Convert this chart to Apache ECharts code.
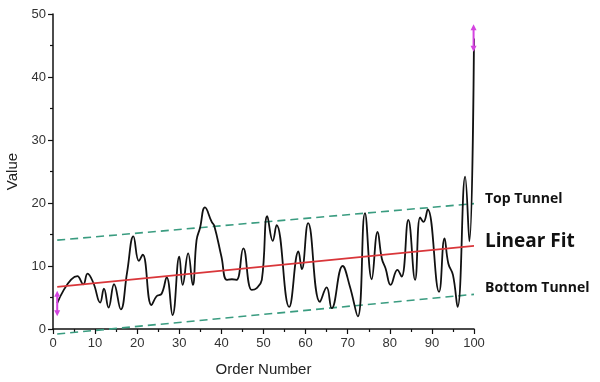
<!DOCTYPE html>
<html>
<head>
<meta charset="utf-8">
<script src="https://cdn.jsdelivr.net/npm/echarts@6/dist/echarts.min.js"></script>
<style>html,body{margin:0;padding:0;background:#fff}#c{width:600px;height:382px}</style>
</head>
<body>
<div id="c"></div>
<script>
// Data
const orderX = [1, 5.8, 7.2, 8.2, 9.6, 11.2, 12.1, 13.2, 14.5, 16.1, 17.6, 19.1, 20.4, 21.3, 23.4, 24.6, 25.8, 27.0, 28.4, 30.0, 30.8, 32.1, 33.2, 34.1, 34.9, 36.1, 37.7, 38.3, 40.0, 41.3, 42.5, 43.6, 45.2, 47.2, 48.4, 49.6, 50.9, 52.2, 53.1, 56.1, 58.3, 59.1, 60.6, 63.4, 65.0, 66.2, 68.8, 70.5, 72.4, 74.1, 75.7, 77.1, 78.1, 79.0, 80.2, 81.8, 82.8, 84.4, 86.0, 87.2, 88.0, 89.0, 91.7, 93.0, 93.9, 95.0, 96.1, 97.9, 98.9, 100];
const values = [4.1, 8.4, 7.1, 8.8, 7.3, 4.2, 6.4, 3.4, 7.1, 3.1, 9.0, 14.7, 10.8, 11.8, 3.8, 5.2, 5.6, 8.2, 2.2, 11.5, 7.0, 12.0, 7.0, 14.1, 16.0, 19.3, 17.0, 16.4, 11.5, 7.8, 7.9, 7.8, 12.8, 6.2, 6.5, 7.8, 17.9, 14.0, 16.5, 3.5, 12.3, 9.5, 16.8, 4.3, 6.6, 3.3, 10.0, 6.8, 2.0, 18.4, 7.9, 15.4, 11.2, 9.6, 7.0, 9.4, 8.3, 17.3, 7.8, 17.7, 17.0, 19.0, 5.9, 14.4, 10.4, 8.6, 3.5, 24.2, 13.9, 46.1];
const fitX = [1, 100];
const fitY = [6.7, 13.2];
const topY = [14.1, 19.9];
const bottomY = [-0.8, 5.5];
const errStartX = [1, 1];
const errStartY = [2.5, 5.6];
const errEndX = [99.9, 99.9];
const errEndY = [44.5, 47.9];
const xTicks = [0, 10, 20, 30, 40, 50, 60, 70, 80, 90, 100];
const yTicks = [0, 10, 20, 30, 40, 50];

const pair = (xs, ys) => xs.map((x, i) => [x, ys[i]]);
const tunnelColor = '#3a9c80';
const labelFont = {fontFamily: 'Open Sans', fontWeight: 'bold', color: '#111'};

function errSeries(xs, ys) {
  return {
    type: 'line', data: [
      {value: [xs[0], ys[0]], symbolRotate: 180},
      {value: [xs[1], ys[1]]}
    ],
    symbol: 'triangle', symbolSize: [6, 6], showSymbol: true,
    itemStyle: {color: '#d444e0'},
    lineStyle: {color: '#d444e0', width: 2},
    z: 10, animation: false, silent: true, clip: false
  };
}

const chart = echarts.init(document.getElementById('c'), null, {renderer: 'canvas'});
chart.setOption({
  animation: false,
  backgroundColor: '#fff',
  grid: {left: 53, right: 126, top: 14, bottom: 53, containLabel: false, outerBoundsMode: 'none'},
  xAxis: {
    type: 'value', min: xTicks[0], max: xTicks[xTicks.length - 1], interval: 10,
    name: 'Order Number', nameLocation: 'middle', nameGap: 33,
    nameTextStyle: {fontFamily: 'Liberation Sans', fontSize: 15, color: '#222'},
    axisLine: {show: true, onZero: false, lineStyle: {color: '#111', width: 1.5}},
    axisTick: {show: true, length: 5, lineStyle: {color: '#111', width: 1.2}},
    minorTick: {show: true, splitNumber: 2, length: 3, lineStyle: {color: '#111', width: 1.2}},
    axisLabel: {fontFamily: 'Liberation Sans', fontSize: 13, color: '#333', margin: 8},
    splitLine: {show: false}
  },
  yAxis: {
    type: 'value', min: yTicks[0], max: yTicks[yTicks.length - 1], interval: 10,
    name: 'Value', nameLocation: 'middle', nameGap: 32, nameRotate: 90,
    nameTextStyle: {fontFamily: 'Liberation Sans', fontSize: 15, color: '#222'},
    axisLine: {show: true, lineStyle: {color: '#111', width: 1.5}},
    axisTick: {show: true, length: 5, lineStyle: {color: '#111', width: 1.2}},
    minorTick: {show: true, splitNumber: 2, length: 3, lineStyle: {color: '#111', width: 1.2}},
    axisLabel: {fontFamily: 'Liberation Sans', fontSize: 13, color: '#333', margin: 7},
    splitLine: {show: false}
  },
  series: [
    {
      name: 'Top Tunnel', type: 'line', data: pair(fitX, topY), showSymbol: false, clip: false,
      lineStyle: {color: tunnelColor, width: 1.6, type: [8, 5]},
      endLabel: {show: true, formatter: '{a}', distance: 0, offset: [11, -5], fontSize: 14, ...labelFont}
    },
    {
      name: 'Bottom Tunnel', type: 'line', data: pair(fitX, bottomY), showSymbol: false, clip: false,
      lineStyle: {color: tunnelColor, width: 1.6, type: [8, 5]},
      endLabel: {show: true, formatter: '{a}', distance: 0, offset: [11, -6], fontSize: 14, ...labelFont}
    },
    {
      name: 'Data', type: 'line', data: pair(orderX, values), showSymbol: false, smooth: 0.45,
      lineStyle: {color: '#111', width: 1.8}, z: 3, clip: false
    },
    {
      name: 'Linear Fit', type: 'line', data: pair(fitX, fitY), showSymbol: false, clip: false,
      lineStyle: {color: '#d9363a', width: 1.8}, z: 4,
      endLabel: {show: true, formatter: '{a}', distance: 0, offset: [11, -4], fontSize: 19, ...labelFont}
    },
    errSeries(errStartX, errStartY),
    errSeries(errEndX, errEndY)
  ]
});
</script>
</body>
</html>
